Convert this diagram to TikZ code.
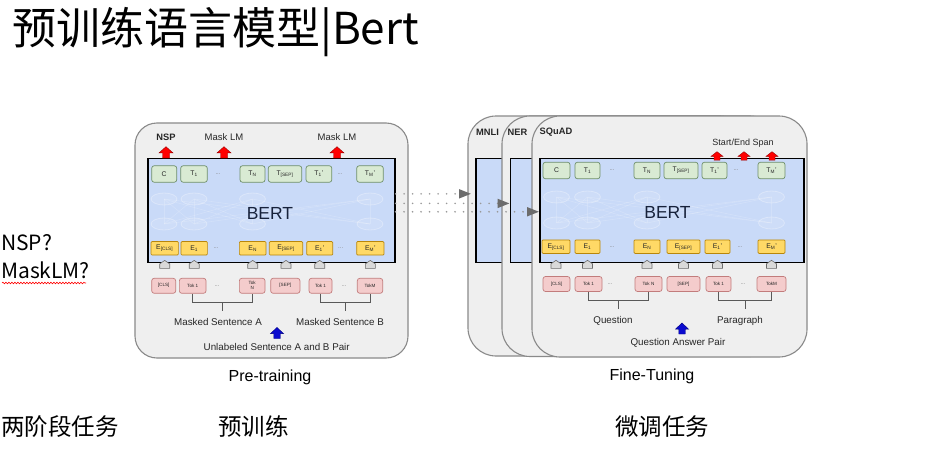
\documentclass[tikz,border=0pt]{standalone}
\usepackage{fontspec}
\setmainfont{Liberation Sans}
\newfontfamily\cjk{Noto Sans CJK SC}
\usetikzlibrary{calc,arrows.meta,decorations.pathmorphing}
\definecolor{panelfill}{HTML}{EFEFEF}
\definecolor{panelline}{HTML}{8A8A8A}
\definecolor{bertblue}{HTML}{C9DAF8}
\definecolor{tfill}{HTML}{D9EAD3}
\definecolor{tline}{HTML}{6E8F6A}
\definecolor{efill}{HTML}{FFD966}
\definecolor{eline}{HTML}{B8860B}
\definecolor{kfill}{HTML}{F4CCCC}
\definecolor{kline}{HTML}{C27C7C}
\definecolor{redarr}{HTML}{FF0000}
\definecolor{bluearr}{HTML}{0A0ACF}
\definecolor{txt}{HTML}{262626}
\definecolor{berttxt}{HTML}{17223B}
\tikzset{
 panel/.style={draw=panelline, fill=panelfill, line width=1.1pt},
 bertbox/.style={draw=black, fill=bertblue, line width=1.6pt, inner sep=0pt, anchor=north west},
 tbox/.style={draw=tline, fill=tfill, line width=0.7pt, rounded corners=2.5pt, minimum height=16.5pt, inner sep=0pt, font=\fontsize{6.8}{7}\selectfont, text=txt},
 ebox/.style={draw=eline, fill=efill, line width=0.7pt, rounded corners=1pt, minimum height=13.5pt, inner sep=0pt, font=\fontsize{6.8}{7}\selectfont, text=txt},
 kbox/.style={draw=kline, fill=kfill, line width=0.7pt, rounded corners=2.5pt, minimum height=15pt, inner sep=0pt, font=\fontsize{4.6}{5}\selectfont, text=txt, align=center},
 dotsl/.style={font=\fontsize{6}{7}\selectfont, text=gray, inner sep=0pt},
 lbl/.style={font=\fontsize{9.8}{11}\selectfont, text=txt, inner sep=0pt},
 blbl/.style={font=\fontsize{9.3}{11}\selectfont\bfseries, text=txt, inner sep=0pt},
 big/.style={font=\fontsize{16}{18}\selectfont, text=black, inner sep=0pt},
 pent/.style={draw=gray!85!black, fill=gray!30, line width=0.6pt},
 redup/.style={fill=redarr, draw=red!60!black, line width=0.4pt},
 blueup/.style={fill=bluearr, draw=blue!50!black, line width=0.4pt},
 brk/.style={draw=gray!70!black, line width=0.8pt},
 dotarr/.style={draw=gray!80, line width=1.8pt, line cap=round, dash pattern=on 0pt off 8.5pt, -{Triangle[length=12pt,width=9pt,color=gray!85!black]}},
 ghost/.style={draw=white, draw opacity=0.3, fill=white, fill opacity=0.1, line width=0.8pt},
 ghostline/.style={draw=white, draw opacity=0.18, line width=0.6pt},
 cjkt/.style={font=\cjk\fontsize{23.5}{26}\selectfont, anchor=base west, inner sep=0pt},
}
\newcommand{\bertup}[5]{\draw[#5] (#1,#2) -- ++(#3,{0.55*#4}) -- ++({-0.5*#3},0) -- ++(0,{0.45*#4}) -- ++({-#3},0) -- ++(0,{-0.45*#4}) -- ++({-0.5*#3},0) -- cycle;}
\newcommand{\bertpent}[2]{\draw[pent] (#1.south) ++(-5,#2) -- ++(10,0) -- ++(0,-4.5) -- ++(-5,-3.5) -- ++(-5,3.5) -- cycle;}
\begin{document}
\begin{tikzpicture}[x=1pt,y=-1pt]
\useasboundingbox[fill=white] (0,0) rectangle (933,460);

% title and side texts
\node[anchor=base west, inner sep=0pt, font=\cjk\fontsize{44}{48}\selectfont] (title) at (12,45) {预训练语言模型|Bert};
\node[anchor=base west, inner sep=0pt, font=\cjk\fontsize{21}{24}\selectfont] (q1) at (1,250) {NSP?};
\node[anchor=base west, inner sep=0pt, font=\cjk\fontsize{21}{24}\selectfont] (q2) at (1,278) {MaskLM?};
\draw[red, line width=0.6pt, decorate, decoration={snake, amplitude=0.8pt, segment length=3pt}] (q2.base west) ++(1,5) coordinate (w1) -- ($(q2.base east)+(-4,5)$);
\node[cjkt] (s1) at (1,435) {两阶段任务};
\node[cjkt] (s2) at (218,435) {预训练};
\node[cjkt] (s3) at (615,435) {微调任务};

% ================= LEFT PANEL =================
\draw[panel, rounded corners=22pt] (135,123) rectangle (408,358);
\node[bertbox, minimum width=247pt, minimum height=104pt] (lbert) at (147,157.7) {};
\foreach \a in {164,194,252.5,370}{
  \foreach \b in {164,194,252.5,370}{\draw[ghostline] (\a,224) -- (\b,199);}
}
\foreach \a in {164,194,252.5,370}{
  \draw[ghost] (\a,199) ellipse [x radius=13pt, y radius=6pt];
  \draw[ghost] (\a,224) ellipse [x radius=13pt, y radius=6pt];
}
\node[font=\fontsize{17.5}{20}\selectfont, text=berttxt] (lbt) at (270,213.5) {BERT};

\node[tbox, minimum width=25pt] (lC) at (164.2,174) {C};
\node[tbox, minimum width=26.6pt] (lT1) at (194,174) {T\textsubscript{1}};
\node[dotsl] (ld1) at (218,174) {...};
\node[tbox, minimum width=25pt] (lTN) at (252.5,174) {T\textsubscript{N}};
\node[tbox, minimum width=33.4pt] (lTS) at (285,174) {T\textsubscript{[SEP]}};
\node[tbox, minimum width=25.7pt] (lT1p) at (318.9,174) {T\textsubscript{1}'};
\node[dotsl] (ld2) at (340,174) {...};
\node[tbox, minimum width=26.6pt] (lTM) at (370,174) {T\textsubscript{M}'};

\node[ebox, minimum width=27.3pt] (lE) at (164.7,248.3) {E\textsubscript{[CLS]}};
\node[ebox, minimum width=26.3pt] (lE1) at (194.2,248.3) {E\textsubscript{1}};
\node[dotsl] (ld3) at (216,248.3) {...};
\node[ebox, minimum width=26.7pt] (lEN) at (252.7,248.3) {E\textsubscript{N}};
\node[ebox, minimum width=33.4pt] (lES) at (286,248.3) {E\textsubscript{[SEP]}};
\node[ebox, minimum width=26pt] (lE1p) at (319.7,248.3) {E\textsubscript{1}'};
\node[dotsl] (ld4) at (340.7,248.3) {...};
\node[ebox, minimum width=27.3pt] (lEM) at (370.3,248.3) {E\textsubscript{M}'};

\foreach \n in {lE,lE1,lEN,lES,lE1p,lEM}{\bertpent{\n}{13}}

\node[kbox, minimum width=24pt] (lk0) at (163.7,285.8) {[CLS]};
\node[kbox, minimum width=26.7pt] (lk1) at (192.7,285.8) {Tok 1};
\node[dotsl] (ld5) at (217,285.8) {...};
\node[kbox, minimum width=25.7pt] (lkN) at (252.2,285.8) {Tok\\N};
\node[kbox, minimum width=29.3pt] (lkS) at (285.3,285.8) {[SEP]};
\node[kbox, minimum width=23pt] (lk1p) at (320.5,285.8) {Tok 1};
\node[dotsl] (ld6) at (344,285.8) {...};
\node[kbox, minimum width=25.4pt] (lkM) at (370,285.8) {TokM};

\draw[brk] (lk1.south) -- ++(0,9) -| (lkN.south);
\draw[brk] ($(lk1.south)!0.5!(lkN.south)$) ++(0,9) -- ++(0,8);
\draw[brk] (lk1p.south) -- ++(0,9) -| (lkM.south);
\draw[brk] ($(lk1p.south)!0.5!(lkM.south)$) ++(0,9) -- ++(0,8);

\node[blbl] (nsp) at (166,137) {NSP};
\node[lbl, font=\fontsize{9.5}{11}\selectfont] (mlm1) at (224,137) {Mask LM};
\node[lbl, font=\fontsize{9.5}{11}\selectfont] (mlm2) at (337,137) {Mask LM};
\bertup{166}{146.7}{7}{11.3}{redup}
\bertup{224}{146.7}{7}{11.3}{redup}
\bertup{337}{146.7}{7}{11.3}{redup}

\node[lbl] (msa) at (218,321.7) {Masked Sentence A};
\node[lbl] (msb) at (340,321.7) {Masked Sentence B};
\bertup{277}{327.5}{6.5}{11}{blueup}
\node[lbl] (pair) at (276.7,347) {Unlabeled Sentence A and B Pair};
\node[big] (pre) at (270,377) {Pre-training};

% ================= RIGHT PANELS =================
\draw[panel, rounded corners=28pt] (468,116) rectangle (748,356);
\node[bertbox, minimum width=262pt, minimum height=104pt] (mbert) at (475,157.7) {};
\draw[panel, rounded corners=28pt] (502,116) rectangle (778,356.5);
\node[bertbox, minimum width=262pt, minimum height=104pt] (nbert) at (509.5,157.7) {};
\draw[panel, rounded corners=28pt] (532,116) rectangle (807,357);
\node[bertbox, minimum width=264pt, minimum height=104pt] (sbert) at (539,157.7) {};
\foreach \a in {556.5,587.5,647,771.5}{
  \foreach \b in {556.5,587.5,647,771.5}{\draw[ghostline] (\a,223) -- (\b,197);}
}
\foreach \a in {556.5,587.5,647,771.5}{
  \draw[ghost] (\a,197) ellipse [x radius=13pt, y radius=6pt];
  \draw[ghost] (\a,223) ellipse [x radius=13pt, y radius=6pt];
}
\node[font=\fontsize{17.5}{20}\selectfont, text=berttxt] (rbt) at (667.5,212) {BERT};

\node[blbl] (mnli) at (487.5,132) {MNLI};
\node[blbl] (ner) at (517.5,132) {NER};
\node[blbl] (squad) at (556,132) {SQuAD};

\node[tbox, minimum width=27pt] (rC) at (556.5,170.5) {C};
\node[tbox, minimum width=25pt] (rT1) at (587.5,170.5) {T\textsubscript{1}};
\node[dotsl] (rd1) at (612,170.5) {...};
\node[tbox, minimum width=26pt] (rTN) at (647,170.5) {T\textsubscript{N}};
\node[tbox, minimum width=34pt] (rTS) at (681,170.5) {T\textsubscript{[SEP]}};
\node[tbox, minimum width=25pt] (rT1p) at (714.5,170.5) {T\textsubscript{1}'};
\node[dotsl] (rd2) at (736,170.5) {...};
\node[tbox, minimum width=27pt] (rTM) at (771.5,170.5) {T\textsubscript{M}'};

\node[ebox, minimum width=28pt] (rE) at (556,246.7) {E\textsubscript{[CLS]}};
\node[ebox, minimum width=25pt] (rE1) at (587.5,246.7) {E\textsubscript{1}};
\node[dotsl] (rd3) at (612,246.7) {...};
\node[ebox, minimum width=26pt] (rEN) at (647,246.7) {E\textsubscript{N}};
\node[ebox, minimum width=33pt] (rES) at (683.5,246.7) {E\textsubscript{[SEP]}};
\node[ebox, minimum width=25pt] (rE1p) at (717.5,246.7) {E\textsubscript{1}'};
\node[dotsl] (rd4) at (740,246.7) {...};
\node[ebox, minimum width=27pt] (rEM) at (771.5,246.7) {E\textsubscript{M}'};

\foreach \n in {rE,rE1,rEN,rES,rE1p,rEM}{\bertpent{\n}{14.5}}

\node[kbox, minimum width=27pt] (rk0) at (556.5,284) {[CLS]};
\node[kbox, minimum width=27pt] (rk1) at (588.5,284) {Tok 1};
\node[dotsl] (rd5) at (610,284) {...};
\node[kbox, minimum width=27pt] (rkN) at (648.5,284) {Tok N};
\node[kbox, minimum width=33pt] (rkS) at (683.5,284) {[SEP]};
\node[kbox, minimum width=25pt] (rk1p) at (718.5,284) {Tok 1};
\node[dotsl] (rd6) at (743,284) {...};
\node[kbox, minimum width=29pt] (rkM) at (771.5,284) {TokM};

\draw[brk] (rk1.south) -- ++(0,9) -| (rkN.south);
\draw[brk] ($(rk1.south)!0.5!(rkN.south)$) ++(0,9) -- ++(0,8);
\draw[brk] (rk1p.south) -- ++(0,9) -| (rkM.south);
\draw[brk] ($(rk1p.south)!0.5!(rkM.south)$) ++(0,9) -- ++(0,8);

\node[lbl, font=\fontsize{9}{11}\selectfont] (span) at (743,143) {Start/End Span};
\bertup{717}{151.7}{6}{8.5}{redup}
\bertup{744}{151.7}{6}{8.5}{redup}
\bertup{772}{151.7}{6}{8.5}{redup}

\node[lbl] (ques) at (613,321) {Question};
\node[lbl] (para) at (740,321) {Paragraph};
\bertup{682}{323}{6.5}{11}{blueup}
\node[lbl] (qap) at (678,343) {Question Answer Pair};
\node[big] (fine) at (652,376) {Fine-Tuning};

% dotted transfer arrows
\draw[dotarr, shorten >=4pt] ($(lbert.north east)!0.342!(lbert.south east)$) -- ($(mbert.north west)!0.342!(mbert.south west)$);
\draw[dotarr] ($(lbert.north east)!0.433!(lbert.south east)$) -- ($(nbert.north west)!0.433!(nbert.south west)$);
\draw[dotarr] ($(lbert.north east)!0.512!(lbert.south east)$) -- ($(sbert.north west)!0.512!(sbert.south west)$);
\end{tikzpicture}
\end{document}
